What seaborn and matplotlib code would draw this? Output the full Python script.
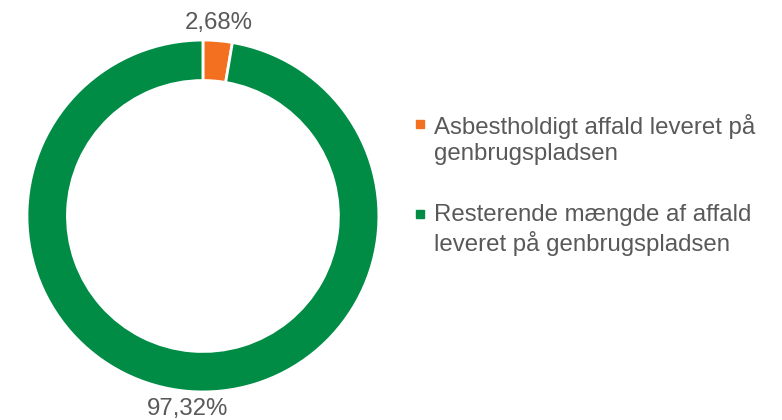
import matplotlib
matplotlib.use("Agg")
import matplotlib.pyplot as plt
from matplotlib.lines import Line2D
import seaborn as sns

# data
categories = ["Asbestholdigt affald leveret på\ngenbrugspladsen",
              "Resterende mængde af affald\nleveret på genbrugspladsen"]
shares = [2.68, 97.32]
share_labels = ["2,68%", "97,32%"]
colors = ["#F37021", "#008C45"]

sns.set_style("white")
plt.rcParams['font.family'] = ['Liberation Sans', 'DejaVu Sans']
text_color = "#595959"

fig = plt.figure(figsize=(7.82, 4.2), dpi=100)
ax = fig.add_axes([0.0345, 0.0667, 0.450, 0.838])

wedges, texts = ax.pie(shares,
                       labels=share_labels,
                       colors=colors,
                       startangle=90,
                       counterclock=False,
                       labeldistance=1.04,
                       wedgeprops=dict(width=0.23, edgecolor='white', linewidth=2),
                       textprops=dict(color=text_color, fontsize=17.3))
# labels sit just outside the ring, above / below it
for t in texts:
    t.set_ha('center')
    t.set_va('bottom' if t.get_position()[1] > 0 else 'top')
ax.set_xlim(-1, 1)
ax.set_ylim(-1, 1)
ax.set_aspect('equal')

handles = [Line2D([], [], linestyle='none', marker='s', markersize=5.8,
                  markerfacecolor=c, markeredgecolor=c) for c in colors]
leg = fig.legend(handles, categories, loc='upper left', bbox_to_anchor=(0.531, 0.7286),
                 frameon=False, fontsize=17.3, handlelength=0.4, handleheight=1.15,
                 handletextpad=0.4, labelspacing=1.6, borderpad=0, borderaxespad=0)
for t in leg.get_texts():
    t.set_color(text_color)
    t.set_linespacing(1.25)
# put the marker on the first line of each two-line label
for col in leg._legend_handle_box.get_children():
    for item in col.get_children():
        item.align = "top"

fig.savefig("out.png", dpi=100)
